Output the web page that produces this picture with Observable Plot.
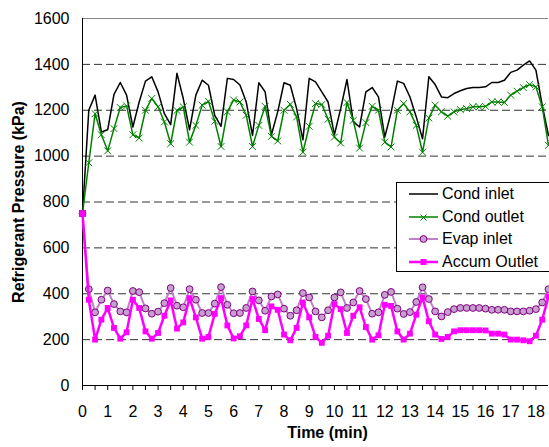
<!DOCTYPE html>
<html><head><meta charset="utf-8">
<script src="https://cdn.jsdelivr.net/npm/d3@7"></script>
<script src="https://cdn.jsdelivr.net/npm/@observablehq/plot@0.6"></script>
<style>
body{margin:0;background:#fff;overflow:hidden;}
#wrap{position:relative;width:549px;height:447px;overflow:hidden;font-family:"Liberation Sans",Arial,sans-serif;}
#legend{position:absolute;left:396px;top:182px;width:170px;height:88px;border:1px solid #000;background:#fff;}
.row{position:absolute;left:0;height:22px;display:flex;align-items:center;font-size:16px;color:#000;white-space:nowrap;}
.row svg{margin-left:12px;margin-right:4px;}
</style></head><body><div id="wrap"><div id="legend"></div></div>
<script>
const times = [0,0.25,0.5,0.75,1,1.25,1.5,1.75,2,2.25,2.5,2.75,3,3.25,3.5,3.75,4,4.25,4.5,4.75,5,5.25,5.5,5.75,6,6.25,6.5,6.75,7,7.25,7.5,7.75,8,8.25,8.5,8.75,9,9.25,9.5,9.75,10,10.25,10.5,10.75,11,11.25,11.5,11.75,12,12.25,12.5,12.75,13,13.25,13.5,13.75,14,14.25,14.5,14.75,15,15.25,15.5,15.75,16,16.25,16.5,16.75,17,17.25,17.5,17.75,18,18.25,18.5];
const seriesNames = ["Cond inlet","Cond outlet","Evap inlet","Accum Outlet"];
const condInlet = [750,1200,1266,1105,1115,1269,1321,1266,1127,1236,1327,1346,1280,1185,1137,1361,1251,1115,1266,1331,1309,1178,1130,1339,1334,1310,1236,1090,1320,1280,1093,1193,1320,1309,1207,1071,1339,1324,1280,1236,1093,1207,1334,1149,1127,1280,1299,1258,1083,1190,1327,1317,1258,1171,1076,1346,1312,1258,1255,1273,1285,1295,1299,1299,1302,1321,1321,1331,1365,1375,1397,1415,1375,1222,1090];
const condOutlet = [750,971,1185,1093,1023,1120,1212,1219,1093,1079,1200,1251,1215,1149,1054,1199,1215,1061,1134,1222,1239,1152,1042,1193,1245,1236,1178,1042,1134,1217,1086,1066,1200,1226,1171,1017,1130,1229,1225,1161,1083,1057,1234,1156,1035,1146,1217,1200,1061,1040,1200,1229,1193,1134,1017,1166,1222,1193,1174,1193,1203,1207,1215,1215,1217,1236,1236,1234,1266,1283,1299,1312,1302,1215,1047];
const evapInlet = [750,420,319,374,414,355,323,319,412,407,336,313,322,359,425,348,341,420,374,316,316,357,429,352,315,316,338,410,371,326,388,397,335,304,328,403,384,323,297,328,384,406,338,362,412,377,313,319,395,408,335,312,320,364,428,377,323,301,320,333,338,338,338,338,335,330,330,330,323,323,323,326,333,362,420];
const accumOutlet = [750,374,200,287,338,251,204,232,374,338,236,204,229,304,371,248,275,381,297,204,212,312,381,262,205,215,262,377,290,241,345,330,222,197,251,362,297,212,186,217,355,333,229,304,341,255,200,219,352,347,236,200,226,309,384,280,222,203,212,236,241,241,241,241,240,226,226,222,200,200,197,193,217,287,388];
const yTicks = [0,200,400,600,800,1000,1200,1400,1600];
const gridValues = [200,400,600,800,1000,1200,1400];
const xTickValues = [0,0.5,1,1.5,2,2.5,3,3.5,4,4.5,5,5.5,6,6.5,7,7.5,8,8.5,9,9.5,10,10.5,11,11.5,12,12.5,13,13.5,14,14.5,15,15.5,16,16.5,17,17.5,18];

const toRows = arr => times.map((t, i) => ({t, v: arr[i]}));
const ci = toRows(condInlet), co = toRows(condOutlet), ev = toRows(evapInlet), ac = toRows(accumOutlet);

const styles = [
  {line:"#000000", lw:1.5, sym:null},
  {line:"#008000", lw:1.5, sym:"times", fill:"none", stroke:"#008000"},
  {line:"#c080c8", lw:2, sym:"circle", fill:"#c8a0d0", stroke:"#800080"},
  {line:"#ff00ff", lw:2.5, sym:"square", fill:"#ff00ff", stroke:"none"}
];

const chart = Plot.plot({
  width: 549, height: 447,
  marginLeft: 82, marginRight: 1, marginTop: 18, marginBottom: 62,
  style: {fontFamily: "'Liberation Sans', Arial, sans-serif", fontSize: "16px", color: "#000", background: "#fff"},
  x: {domain: [0, 18.5]},
  y: {domain: [0, 1600]},
  marks: [
    Plot.gridY(gridValues, {stroke: "#333", strokeOpacity: 1, strokeDasharray: "8,4"}),
    Plot.ruleY([1600], {stroke: "#888"}),
    Plot.axisY(yTicks, {tickSize: 0, tickPadding: 13, label: null, fontSize: 16, tickFormat: d => String(d)}),
    Plot.axisX(xTickValues, {tickSize: 5, tickPadding: 15, label: null, fontSize: 16, tickFormat: d => Number.isInteger(d) ? String(d) : ""}),
    Plot.ruleX([0], {stroke: "#000"}),
    Plot.ruleY([0], {stroke: "#000"}),
    Plot.line(ci, {x: "t", y: "v", stroke: styles[0].line, strokeWidth: styles[0].lw}),
    Plot.line(co, {x: "t", y: "v", stroke: styles[1].line, strokeWidth: styles[1].lw}),
    Plot.dot(co, {x: "t", y: "v", symbol: "times", r: 3.2, stroke: "#008000", strokeWidth: 1}),
    Plot.line(ev, {x: "t", y: "v", stroke: styles[2].line, strokeWidth: styles[2].lw}),
    Plot.dot(ev, {x: "t", y: "v", symbol: "circle", r: 3.4, fill: "#c8a0d0", stroke: "#800080", strokeWidth: 1}),
    Plot.line(ac, {x: "t", y: "v", stroke: styles[3].line, strokeWidth: styles[3].lw}),
    Plot.dot(ac, {x: "t", y: "v", symbol: "square", r: 3.3, fill: "#ff00ff"}),
    Plot.text(["Refrigerant Pressure (kPa)"], {text: d => d, frameAnchor: "left", textAnchor: "middle", rotate: -90, dx: -64, fontWeight: "bold", fontSize: 16}),
    Plot.text(["Time (min)"], {text: d => d, frameAnchor: "bottom", textAnchor: "middle", dx: 12, dy: 52, fontWeight: "bold", fontSize: 16})
  ]
});
document.getElementById("wrap").prepend(chart);

// legend
const legend = d3.select("#legend");
const rowTops = [0, 23, 45, 68];
seriesNames.forEach((name, i) => {
  const s = styles[i];
  const row = legend.append("div").attr("class", "row").style("top", rowTops[i] + "px");
  const svg = row.append("svg").attr("width", 29).attr("height", 12);
  svg.append("line").attr("x1", 0).attr("x2", 29).attr("y1", 6).attr("y2", 6).attr("stroke", s.line).attr("stroke-width", s.lw);
  if (s.sym === "times") {
    svg.append("path").attr("d", "M11.5,3.5L17.5,9.5M17.5,3.5L11.5,9.5").attr("stroke", s.stroke).attr("stroke-width", 1);
  } else if (s.sym === "circle") {
    svg.append("circle").attr("cx", 14.5).attr("cy", 6).attr("r", 3.4).attr("fill", s.fill).attr("stroke", s.stroke);
  } else if (s.sym === "square") {
    svg.append("rect").attr("x", 11.5).attr("y", 3).attr("width", 6).attr("height", 6).attr("fill", s.fill);
  }
  row.append("span").text(name);
});
</script>
</body></html>
